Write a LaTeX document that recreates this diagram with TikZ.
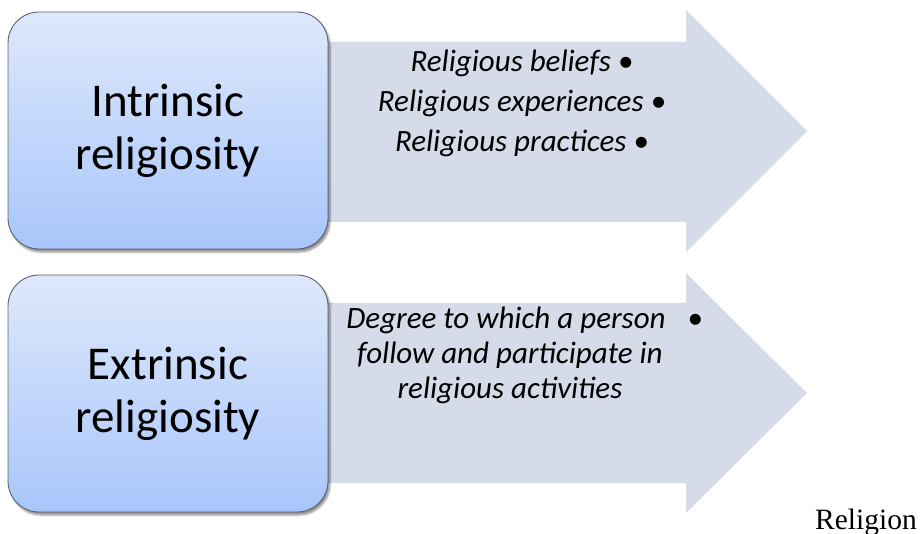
\documentclass[tikz,border=0pt]{standalone}
\usepackage{fontspec}
\setmainfont{Carlito}
\newfontfamily\serifrm{Liberation Serif}
\usetikzlibrary{shadows.blur}
\definecolor{arrowfill}{HTML}{D5DBE9}
\definecolor{boxtop}{HTML}{DEE8FB}
\definecolor{boxbot}{HTML}{A8C6FB}
\definecolor{boxline}{HTML}{5A6270}
\tikzset{
  catbox/.style={draw=boxline, line width=0.9pt, rounded corners=31pt,
    top color=boxtop, bottom color=boxbot,
    blur shadow={shadow xshift=2pt, shadow yshift=-3pt, shadow blur steps=6, shadow opacity=45}},
  bigarrow/.style={fill=arrowfill},
  boxtext/.style={font=\fontsize{47}{56}\selectfont, anchor=base, inner sep=0pt},
  itemtext/.style={font=\fontsize{31}{37}\selectfont\itshape, anchor=base, inner sep=0pt},
  captext/.style={font=\serifrm\fontsize{29.5}{34}\selectfont, anchor=base west, inner sep=0pt}
}
\begin{document}
\begin{tikzpicture}[x=1pt,y=-1pt]
\useasboundingbox (0,0) rectangle (924,534);
% arrows
\fill[bigarrow] (326,42) -- (686,42) -- (686,10) -- (807,131) -- (686,252) -- (686,222) -- (326,222) -- cycle;
\fill[bigarrow] (326,303) -- (686,303) -- (686,273) -- (807,393) -- (686,513) -- (686,483) -- (326,483) -- cycle;
% boxes
\path[catbox] (8,12) rectangle (328,249);
\node[boxtext] (i1) at (168,117) {Intrinsic};
\node[boxtext] (i2) at (168,170) {religiosity};
\path[catbox] (8,275) rectangle (328,512);
\node[boxtext] (e1) at (168,380) {Extrinsic};
\node[boxtext] (e2) at (168,433) {religiosity};
% arrow 1 text
\node[itemtext] (a1) at (522,72) {Religious beliefs •};
\node[itemtext] (a2) at (522,112) {Religious experiences •};
\node[itemtext] (a3) at (522,152) {Religious practices •};
% arrow 2 text
\node[itemtext] (b1) at (506,329) {Degree to which a person};
\node[itemtext] (bb) at (695,329) {•};
\node[itemtext] (b2) at (510,364) {follow and participate in};
\node[itemtext] (b3) at (510,399) {religious activities};
% caption
\node[captext] (cap) at (815,529) {Religion};
\end{tikzpicture}
\end{document}
